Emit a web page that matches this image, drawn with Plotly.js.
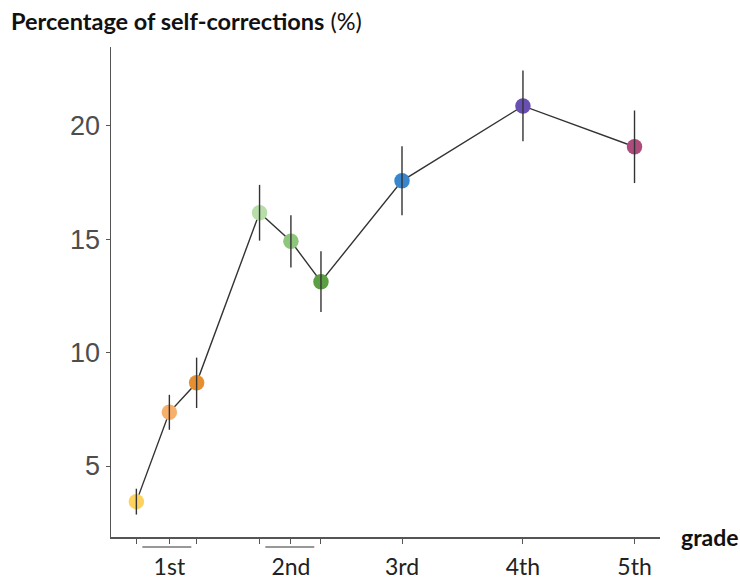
<!DOCTYPE html>
<html>
<head>
<meta charset="utf-8">
<script src="https://cdn.plot.ly/plotly-3.0.1.min.js"></script>
<style>html,body{margin:0;padding:0;background:#fff;}#chart{width:740px;height:581px;}</style>
</head>
<body>
<div id="chart"></div>
<script>
// Data (x = position on the grade axis, sub-groups of 1st and 2nd grade spread around their label)
const xPos = [0.728, 1.009, 1.241, 1.777, 2.044, 2.30, 2.99, 4.02, 4.97];
const pct = [3.43, 7.37, 8.67, 16.17, 14.91, 13.13, 17.58, 20.88, 19.08];
const err = [0.57, 0.77, 1.11, 1.23, 1.15, 1.34, 1.52, 1.56, 1.60];
const colors = ['#FDD35E', '#F7AF6C', '#E58F31', '#B7DDA8', '#8FC67E', '#5C9F42', '#3A86CD', '#6A4FB2', '#AD4B7D'];
const tickText = ['', '1st', '', '', '2nd', '', '3rd', '4th', '5th'];
const brackets = [[0.779, 1.196], [1.826, 2.243]];

const traces = [
  {
    x: xPos, y: pct, type: 'scatter', mode: 'lines+markers',
    line: {color: '#333333', width: 1.4},
    marker: {color: colors, size: 15.5, line: {width: 0}},
    hoverinfo: 'skip', showlegend: false
  },
  {
    x: xPos, y: pct, type: 'scatter', mode: 'markers',
    marker: {color: 'rgba(0,0,0,0)', size: 1},
    error_y: {type: 'data', array: err, visible: true, color: '#333333', thickness: 1.4, width: 0},
    hoverinfo: 'skip', showlegend: false
  }
];

const shapes = brackets.map(b => ({
  type: 'line', xref: 'x', yref: 'paper', x0: b[0], x1: b[1], y0: -0.0204, y1: -0.0204,
  line: {color: '#333333', width: 1.2}
}));

const layout = {
  width: 740, height: 581,
  margin: {l: 111, r: 80, t: 47, b: 44},
  paper_bgcolor: '#ffffff', plot_bgcolor: '#ffffff',
  title: {
    text: '<b>Percentage of self-corrections</b> (%)',
    font: {family: 'Lato, "Open Sans", sans-serif', size: 23.5, color: '#111111'},
    xref: 'container', x: 11/740, xanchor: 'left',
    yref: 'container', y: 1 - 22/581, yanchor: 'middle'
  },
  xaxis: {
    range: [0.512, 5.187], showgrid: false, zeroline: false,
    showline: true, linecolor: '#555555', linewidth: 1.5,
    tickmode: 'array', tickvals: xPos, ticktext: tickText,
    ticks: 'outside', ticklen: 5, tickcolor: '#555555', tickwidth: 1,
    tickfont: {family: 'Lato, "Open Sans", sans-serif', size: 23, color: '#222222'},
    ticklabelstandoff: 4
  },
  yaxis: {
    range: [1.87, 23.48], showgrid: false, zeroline: false,
    showline: true, linecolor: '#555555', linewidth: 1.5,
    tickmode: 'array', tickvals: [5, 10, 15, 20],
    ticks: 'outside', ticklen: 4, tickcolor: '#555555', tickwidth: 1,
    tickfont: {family: '"Liberation Sans", Arial, sans-serif', size: 27, color: '#4D4D4D'}
  },
  shapes: shapes,
  annotations: [{
    text: '<b>grade</b>', xref: 'paper', yref: 'paper', x: 1, y: 0,
    xshift: 19, xanchor: 'left', yanchor: 'middle', showarrow: false,
    font: {family: 'Lato, "Open Sans", sans-serif', size: 23, color: '#111111'}
  }]
};

Plotly.newPlot('chart', traces, layout, {displayModeBar: false, staticPlot: true});
</script>
</body>
</html>
